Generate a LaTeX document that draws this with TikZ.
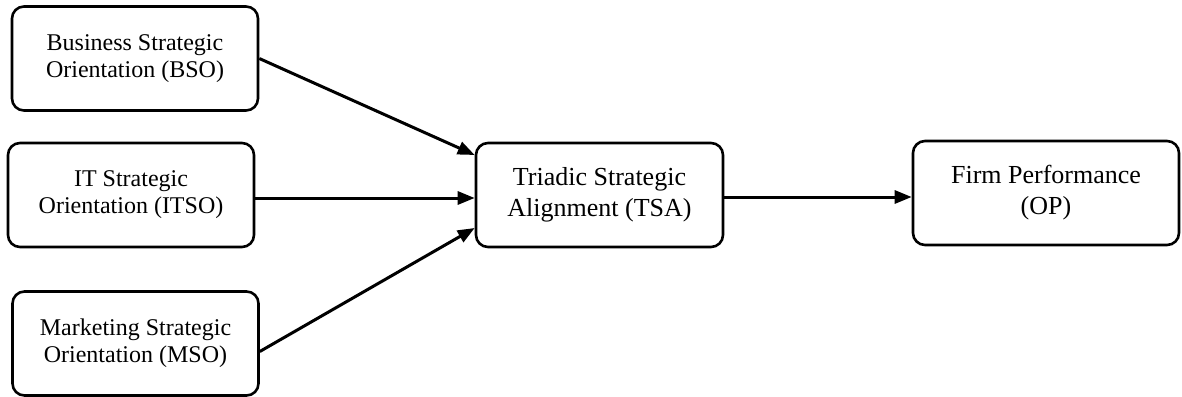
\documentclass[tikz,border=0pt]{standalone}
\usepackage{fontspec}
\setmainfont{Liberation Serif}
\usepackage{tikz}
\usetikzlibrary{arrows.meta,positioning,calc}

\begin{document}
\begin{tikzpicture}[
    x=0.5pt, y=-0.5pt,
    box/.style={rounded corners=6pt, draw=black, line width=1.3pt,
                align=center, inner sep=3pt, fill=white},
    src/.style={box, minimum width=123pt, minimum height=52pt,
                font=\fontsize{12}{13.5}\selectfont},
    mid/.style={box, minimum width=123.5pt, minimum height=52pt,
                font=\fontsize{13}{15.5}\selectfont},
    flow/.style={-{Triangle[length=8.5pt,width=6.5pt]}, line width=1.5pt},
  ]
  \useasboundingbox (0,0) rectangle (1182,396);
  \node[src] (bso) at (135,58.5) {Business Strategic\\Orientation (BSO)};
  \node[src] (itso) at (131,195) {IT Strategic\\Orientation (ITSO)};
  \node[src] (mso) at (135.5,343.5) {Marketing Strategic\\Orientation (MSO)};
  \node[mid] (tsa) at (599.5,195) {Triadic Strategic\\Alignment (TSA)};
  \node[mid, minimum width=133pt] (op) at (1046,193) {Firm Performance\\(OP)};

  % inputs to the alignment
  \draw[flow] ($(bso.east)+(0,0)$) -- ($(tsa.west)+(0,-40)$);
  \draw[flow] ($(itso.east)+(0,3)$) -- ($(tsa.west)+(0,3)$);
  \draw[flow] ($(mso.east)+(0,8)$) -- ($(tsa.west)+(0,33)$);
  % alignment to performance
  \draw[flow] ($(tsa.east)+(0,2)$) -- ($(op.west)+(0,4)$);
\end{tikzpicture}
\end{document}
